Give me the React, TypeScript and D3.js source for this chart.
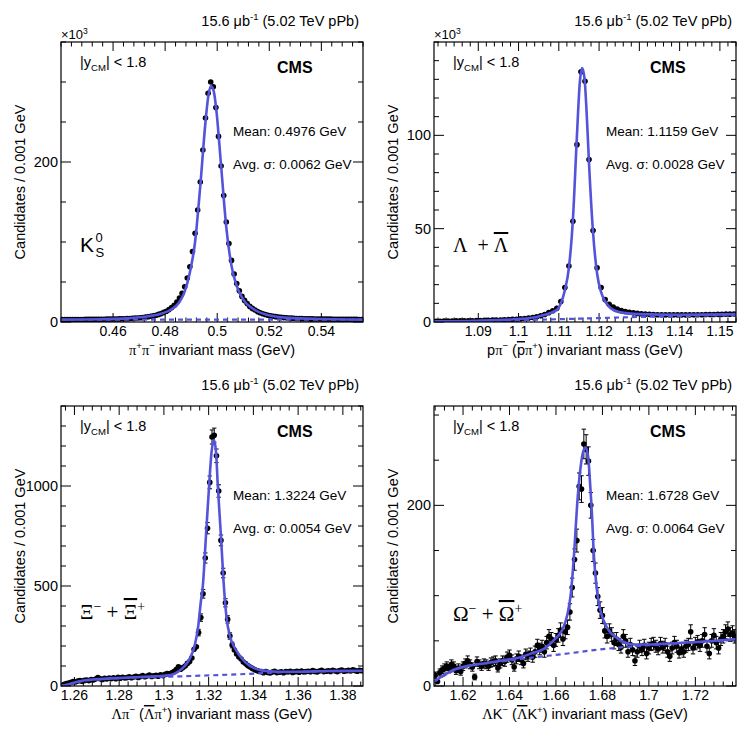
import * as d3 from "d3";

const SANS = "'Liberation Sans', Arial, Helvetica, sans-serif";
const SERIF = "'Liberation Serif', 'Times New Roman', serif";
const FIT_COLOR = "#5353dc";
const BIN = 0.001;

// ---- K0S panel (counts in units of 10^3) ----
const K0_RANGE = [0.44, 0.556];
const K0_FIRST = 0.4405;
const K0_COUNTS = [
  3.0, 3.0, 3.0, 3.1, 3.1, 3.1, 3.2, 3.2, 3.2, 3.3, 3.3, 3.3, 3.4, 3.4, 3.4, 3.5, 3.5, 3.6, 3.6, 3.7,
  3.7, 3.8, 3.9, 4.0, 4.1, 4.2, 4.4, 4.6, 4.8, 5.0, 5.3, 5.7, 6.1, 6.6, 7.2, 7.8, 8.5, 9.5, 10.5, 12,
  13.5, 15.5, 18, 21, 25, 30, 36, 44, 55, 69, 88, 111, 140, 175, 215, 255, 286, 300, 294, 268,
  232, 195, 158, 125, 98, 77, 60, 48, 39, 32, 27, 23, 19.5, 17, 15, 13, 11.5, 10.3, 9.3, 8.5,
  7.8, 7.2, 6.7, 6.2, 5.8, 5.5, 5.2, 5.0, 4.8, 4.6, 4.4, 4.3, 4.2, 4.1, 4.0, 3.9, 3.9, 3.8, 3.8, 3.7,
  3.7, 3.6, 3.6, 3.6, 3.5, 3.5, 3.5, 3.4, 3.4, 3.4, 3.3, 3.3, 3.3, 3.3, 3.2, 3.2,
];
const K0_FIT_M = [0.44, 0.455, 0.465, 0.472, 0.478, 0.482, 0.4855, 0.4875, 0.4895, 0.4915, 0.4935, 0.4955, 0.4966, 0.4976, 0.4987, 0.4997, 0.5015, 0.5035, 0.5055, 0.5075, 0.51, 0.514, 0.519, 0.526, 0.537, 0.556];
const K0_FIT_N = [3, 3.5, 4.5, 6.5, 10, 15, 25, 38, 62, 100, 170, 250, 283, 295, 288, 264, 195, 118, 70, 45, 28, 16, 9, 5.5, 4, 3];
const K0_BKG_M = [0.44, 0.5, 0.556];
const K0_BKG_N = [2.8, 2.9, 3.0];
const K0_XTICKS = [0.46, 0.48, 0.5, 0.52, 0.54];
const K0_YTICKS = [0, 200];

// ---- Lambda panel (counts in units of 10^3) ----
const LAM_RANGE = [1.079, 1.154];
const LAM_FIRST = 1.0795;
const LAM_COUNTS = [
  0.4, 0.4, 0.5, 0.5, 0.5, 0.6, 0.6, 0.6, 0.7, 0.7, 0.8, 0.8, 0.9, 0.9, 1.0, 1.0, 1.1, 1.2, 1.3, 1.4,
  1.5, 1.7, 1.9, 2.1, 2.4, 2.8, 3.3, 4.0, 5.0, 6.0, 7.3, 11, 18.5, 30, 54, 95, 134, 129, 87, 49,
  29, 18.5, 12, 9.5, 8.0, 7.0, 6.2, 5.6, 5.2, 4.9, 4.6, 4.4, 4.2, 4.1, 4.0, 3.9, 3.9, 3.8, 3.8, 3.8,
  3.8, 3.8, 3.8, 3.8, 3.9, 3.9, 3.9, 4.0, 4.0, 4.0, 4.1, 4.1, 4.2, 4.2, 4.3,
];
const LAM_FIT_M = [1.079, 1.09, 1.1, 1.105, 1.1095, 1.1105, 1.1115, 1.1125, 1.1135, 1.1145, 1.1152, 1.1158, 1.1164, 1.117, 1.1175, 1.1185, 1.1195, 1.1205, 1.1215, 1.1228, 1.125, 1.13, 1.14, 1.154];
const LAM_FIT_N = [0.4, 0.7, 1.6, 3.0, 6.5, 10, 17, 29, 55, 100, 128, 136, 130, 108, 85, 48, 26, 16, 11, 7.5, 5.3, 4.2, 3.9, 4.2];
const LAM_BKG_M = [1.079, 1.09, 1.1, 1.11, 1.12, 1.13, 1.14, 1.154];
const LAM_BKG_N = [0.3, 0.6, 1.0, 1.5, 2.1, 2.7, 3.2, 3.8];
const LAM_XTICKS = [1.09, 1.1, 1.11, 1.12, 1.13, 1.14, 1.15];
const LAM_YTICKS = [0, 50, 100];

// ---- Xi panel ----
const XI_RANGE = [1.254, 1.389];
const XI_FIRST = 1.2545;
const XI_COUNTS = [
  3, 8, 12, 15, 18, 22, 20, 25, 27, 24, 28, 30, 27, 32, 30, 35, 42, 36, 33, 38,
  35, 40, 37, 41, 36, 43, 39, 44, 40, 42, 46, 41, 45, 48, 43, 47, 52, 46, 50, 55,
  48, 51, 53, 49, 56, 52, 58, 62, 60, 66, 72, 82, 96, 84, 92, 100, 113, 122, 140, 184,
  196, 267, 342, 461, 640, 789, 1018, 1245, 1254, 1151, 975, 728, 565, 416, 333, 250, 205, 180, 160, 145,
  135, 120, 112, 102, 95, 88, 82, 77, 74, 72, 66, 72, 68, 65, 70, 73, 67, 69, 71, 66,
  72, 70, 74, 68, 71, 73, 69, 75, 70, 72, 74, 71, 77, 73, 70, 75, 78, 72, 74, 76,
  73, 79, 75, 72, 77, 80, 74, 76, 78, 75, 81, 77, 74, 79, 76,
];
const XI_FIT_M = [1.254, 1.2587, 1.2631, 1.2691, 1.2765, 1.284, 1.2915, 1.2989, 1.3034, 1.3064, 1.3093, 1.3116, 1.3138, 1.3153, 1.3165, 1.3174, 1.3188, 1.3202, 1.3213, 1.3224, 1.3233, 1.3241, 1.3255, 1.3268, 1.328, 1.3295, 1.3317, 1.3362, 1.3406, 1.3436, 1.351, 1.3585, 1.3734, 1.389];
const XI_FIT_N = [0, 13, 25, 33, 38, 42, 46, 50, 56, 72, 100, 138, 204, 295, 420, 500, 750, 1000, 1170, 1230, 1170, 1000, 750, 500, 342, 250, 190, 121, 88, 78, 71, 71, 75, 76];
const XI_BKG_M = [1.254, 1.2587, 1.2631, 1.2691, 1.2765, 1.284, 1.2915, 1.2989, 1.3064, 1.32, 1.3325, 1.3421, 1.351, 1.3585, 1.3734, 1.389];
const XI_BKG_N = [0, 12, 24, 32, 37, 41, 44, 46, 48, 53, 58, 63, 68, 70, 74, 75];
const XI_XTICKS = [1.26, 1.28, 1.3, 1.32, 1.34, 1.36, 1.38];
const XI_YTICKS = [0, 500, 1000];

// ---- Omega panel ----
const OM_RANGE = [1.6075, 1.7375];
const OM_FIRST = 1.608;
const OM_COUNTS = [
  12, 5, 15, 18, 20, 22, 19, 24, 22, 17, 20, 16, 22, 25, 28, 24, 21, 10, 27, 24,
  22, 25, 24, 22, 26, 27, 28, 20, 25, 28, 27, 32, 34, 29, 21, 30, 33, 29, 25, 35,
  33, 36, 32, 38, 45, 41, 44, 38, 48, 55, 52, 45, 51, 56, 62, 52, 60, 65, 82, 109,
  140, 161, 221, 218, 268, 262, 249, 200, 150, 125, 99, 84, 78, 61, 55, 61, 57, 48, 52, 46,
  43, 55, 50, 38, 46, 40, 28, 38, 44, 40, 45, 36, 42, 46, 47, 44, 41, 47, 43, 46,
  38, 33, 42, 48, 44, 37, 41, 38, 44, 46, 60, 42, 47, 49, 45, 50, 57, 44, 36, 50,
  56, 48, 42, 52, 55, 60, 63, 57, 59, 55,
];
const OM_FIT_M = [1.6075, 1.6118, 1.6161, 1.6218, 1.629, 1.6362, 1.6434, 1.6505, 1.6548, 1.6592, 1.6627, 1.6649, 1.6663, 1.6679, 1.6691, 1.6705, 1.6718, 1.6728, 1.6738, 1.6748, 1.6755, 1.6762, 1.6777, 1.6792, 1.6821, 1.6864, 1.6936, 1.7008, 1.7079, 1.7223, 1.7375];
const OM_FIT_N = [5, 12, 18, 22, 25, 28, 31, 37, 41, 51, 62, 79, 100, 150, 200, 240, 260, 264, 255, 220, 190, 150, 105, 83, 64, 53, 46, 46, 47, 49, 52];
const OM_BKG_M = [1.6075, 1.62, 1.636, 1.65, 1.665, 1.679, 1.694, 1.708, 1.7375];
const OM_BKG_N = [5, 21, 27, 31.5, 36, 40.5, 44, 46.5, 51];
const OM_XTICKS = [1.62, 1.64, 1.66, 1.68, 1.7, 1.72];
const OM_YTICKS = [0, 200];

type Seg = { t: string; sup?: boolean; sub?: boolean; over?: boolean; serif?: boolean };

function rich(segs: Seg[], size: number) {
  let shift = 0;
  return segs.map((s, i) => {
    const target = s.sup ? -size * 0.4 : s.sub ? size * 0.3 : 0;
    const dy = target - shift;
    shift = target;
    return (
      <tspan
        key={i}
        dy={dy}
        fontSize={s.sup || s.sub ? size * 0.66 : size}
        fontFamily={s.serif ? SERIF : undefined}
        textDecoration={s.over ? "overline" : undefined}
      >
        {s.t}
      </tspan>
    );
  });
}

const PANELS = [
  {
    dx: 0, dy: 0, range: K0_RANGE, first: K0_FIRST, counts: K0_COUNTS, unit: 1000, yMax: 350,
    xTicks: K0_XTICKS, xMinor: 0.004, yTicks: K0_YTICKS, yMinor: 50,
    fitM: K0_FIT_M, fitN: K0_FIT_N, bkgM: K0_BKG_M, bkgN: K0_BKG_N,
    mean: "0.4976", sigma: "0.0062", exp: true,
    xTitle: [{ t: "π", serif: true }, { t: "+", sup: true }, { t: "π", serif: true }, { t: "−", sup: true }, { t: " invariant mass (GeV)" }] as Seg[],
  },
  {
    dx: 373, dy: 0, range: LAM_RANGE, first: LAM_FIRST, counts: LAM_COUNTS, unit: 1000, yMax: 150,
    xTicks: LAM_XTICKS, xMinor: 0.002, yTicks: LAM_YTICKS, yMinor: 10,
    fitM: LAM_FIT_M, fitN: LAM_FIT_N, bkgM: LAM_BKG_M, bkgN: LAM_BKG_N,
    mean: "1.1159", sigma: "0.0028", exp: true,
    xTitle: [{ t: "p" }, { t: "π", serif: true }, { t: "−", sup: true }, { t: " (" }, { t: "p", over: true }, { t: "π", serif: true }, { t: "+", sup: true }, { t: ") invariant mass (GeV)" }] as Seg[],
  },
  {
    dx: 0, dy: 364, range: XI_RANGE, first: XI_FIRST, counts: XI_COUNTS, unit: 1, yMax: 1400,
    xTicks: XI_XTICKS, xMinor: 0.004, yTicks: XI_YTICKS, yMinor: 100,
    fitM: XI_FIT_M, fitN: XI_FIT_N, bkgM: XI_BKG_M, bkgN: XI_BKG_N,
    mean: "1.3224", sigma: "0.0054", exp: false,
    xTitle: [{ t: "Λπ", serif: true }, { t: "−", sup: true }, { t: " (" }, { t: "Λ", over: true, serif: true }, { t: "π", serif: true }, { t: "+", sup: true }, { t: ") invariant mass (GeV)" }] as Seg[],
  },
  {
    dx: 373, dy: 364, range: OM_RANGE, first: OM_FIRST, counts: OM_COUNTS, unit: 1, yMax: 310,
    xTicks: OM_XTICKS, xMinor: 0.004, yTicks: OM_YTICKS, yMinor: 50,
    fitM: OM_FIT_M, fitN: OM_FIT_N, bkgM: OM_BKG_M, bkgN: OM_BKG_N,
    mean: "1.6728", sigma: "0.0064", exp: false,
    xTitle: [{ t: "Λ", serif: true }, { t: "K" }, { t: "−", sup: true }, { t: " (" }, { t: "Λ", over: true, serif: true }, { t: "K" }, { t: "+", sup: true }, { t: ") invariant mass (GeV)" }] as Seg[],
  },
];

const L = 61, R = 363, T = 42, B = 322;

function stepTicks(anchor: number, step: number, lo: number, hi: number) {
  const out: number[] = [];
  const n0 = Math.ceil((lo - anchor) / step - 1e-6);
  const n1 = Math.floor((hi - anchor) / step + 1e-6);
  for (let n = n0; n <= n1; n++) out.push(anchor + n * step);
  return out;
}

function ParticleLabel({ i }: { i: number }) {
  if (i === 0)
    return (
      <g fontFamily={SANS}>
        <text x={80} y={252} fontSize={21}>K</text>
        <text x={95.5} y={242} fontSize={13}>0</text>
        <text x={95.5} y={257} fontSize={13}>S</text>
      </g>
    );
  if (i === 1)
    return (
      <text x={80} y={252} fontSize={20} fontFamily={SERIF}>
        {rich([{ t: "Λ\u00a0\u00a0+\u00a0" }, { t: "Λ", over: true }], 20)}
      </text>
    );
  const g = i === 2 ? "Ξ" : "Ω";
  return (
    <text x={80} y={i === 2 ? 255 : 257} fontSize={21} fontFamily={SERIF}>
      {rich([{ t: g }, { t: "−", sup: true }, { t: "\u00a0+\u00a0" }, { t: g, over: true }, { t: "+", sup: true }], 21)}
    </text>
  );
}

function Panel({ p, i }: { p: (typeof PANELS)[number]; i: number }) {
  const x = d3.scaleLinear().domain(p.range).range([L, R]);
  const y = d3.scaleLinear().domain([0, p.yMax]).range([B, T]);
  const centers = p.counts.map((_, k) => p.first + k * BIN);
  const fit = d3
    .line<number>()
    .x((_, k) => x(p.fitM[k]))
    .y((d) => y(d))
    .curve(d3.curveMonotoneX)(p.fitN);
  const bkg = d3
    .line<number>()
    .x((_, k) => x(p.bkgM[k]))
    .y((d) => y(d))
    .curve(d3.curveMonotoneX)(p.bkgN);

  const xMinor = stepTicks(p.xTicks[0], p.xMinor, p.range[0], p.range[1]);
  const yMinor = stepTicks(0, p.yMinor, 0, p.yMax);
  const fmt = d3.format(".2~f");
  const clipId = `clip${i}`;

  return (
    <g transform={`translate(${p.dx},${p.dy})`} fontFamily={SANS}>
      <defs>
        <clipPath id={clipId}>
          <rect x={L} y={T} width={R - L} height={B - T} />
        </clipPath>
      </defs>

      {/* ticks on all four sides */}
      <g stroke="#000" strokeWidth={1}>
        {xMinor.map((v, k) => {
          const major = p.xTicks.some((t) => Math.abs(t - v) < 1e-6);
          const len = major ? 9 : 4.5;
          return (
            <g key={`x${k}`}>
              <line x1={x(v)} x2={x(v)} y1={B} y2={B - len} />
              <line x1={x(v)} x2={x(v)} y1={T} y2={T + len} />
            </g>
          );
        })}
        {yMinor.map((v, k) => {
          const major = p.yTicks.includes(v);
          const len = major ? 10 : 5;
          return (
            <g key={`y${k}`}>
              <line x1={L} x2={L + len} y1={y(v)} y2={y(v)} />
              <line x1={R} x2={R - len} y1={y(v)} y2={y(v)} />
            </g>
          );
        })}
      </g>

      {/* tick labels */}
      {p.xTicks.map((v) => (
        <text key={`xl${v}`} x={x(v)} y={336} fontSize={14} textAnchor="middle">
          {fmt(v)}
        </text>
      ))}
      {p.yTicks.map((v) => (
        <text key={`yl${v}`} x={58} y={y(v) + 5} fontSize={14.5} textAnchor="end">
          {v}
        </text>
      ))}

      {/* data points */}
      <g clipPath={`url(#${clipId})`}>
        {p.counts.map((n, k) => {
          const err = Math.sqrt(n * p.unit) / p.unit;
          const cx = x(centers[k]);
          const ePx = y(n - err) - y(n);
          return (
            <g key={`d${k}`}>
              {ePx > 2.8 && (
                <g stroke="#000" strokeWidth={1}>
                  <line x1={cx} x2={cx} y1={y(n + err)} y2={y(n - err)} />
                  <line x1={cx - 2.2} x2={cx + 2.2} y1={y(n + err)} y2={y(n + err)} />
                  <line x1={cx - 2.2} x2={cx + 2.2} y1={y(n - err)} y2={y(n - err)} />
                </g>
              )}
              <circle cx={cx} cy={y(n)} r={2.8} fill="#000" />
            </g>
          );
        })}
        <path d={bkg ?? ""} fill="none" stroke={FIT_COLOR} strokeWidth={2.2} strokeDasharray="5,4" />
        <path d={fit ?? ""} fill="none" stroke={FIT_COLOR} strokeWidth={2.6} />
      </g>

      <rect x={L} y={T} width={R - L} height={B - T} fill="none" stroke="#000" strokeWidth={1.2} />

      {/* titles and annotations */}
      <text x={212} y={355} fontSize={14.5} textAnchor="middle">
        {rich(p.xTitle, 14.5)}
      </text>
      <text transform="translate(25,182) rotate(-90)" fontSize={14.5} textAnchor="middle">
        Candidates / 0.001 GeV
      </text>
      <text x={359} y={26} fontSize={14.5} textAnchor="end">
        {rich([{ t: "15.6 μb" }, { t: "-1", sup: true }, { t: " (5.02 TeV pPb)" }], 14.5)}
      </text>
      {p.exp && (
        <text x={61} y={39} fontSize={13}>
          {rich([{ t: "×10" }, { t: "3", sup: true }], 13)}
        </text>
      )}
      <text x={80} y={67} fontSize={14.5}>
        {rich([{ t: "|y" }, { t: "CM", sub: true }, { t: "| < 1.8" }], 14.5)}
      </text>
      <text x={277} y={73} fontSize={16} fontWeight="bold">CMS</text>
      <text x={233} y={136} fontSize={13.5}>Mean: {p.mean} GeV</text>
      <text x={233} y={169} fontSize={13.5}>Avg. σ: {p.sigma} GeV</text>
      <ParticleLabel i={i} />
    </g>
  );
}

export default function App() {
  return (
    <svg
      width={747}
      height={729}
      viewBox="0 0 747 729"
      style={{ position: "absolute", left: 0, top: 0, background: "#fff" }}
    >
      <rect width={747} height={729} fill="#fff" />
      {PANELS.map((p, i) => (
        <Panel key={i} p={p} i={i} />
      ))}
    </svg>
  );
}
